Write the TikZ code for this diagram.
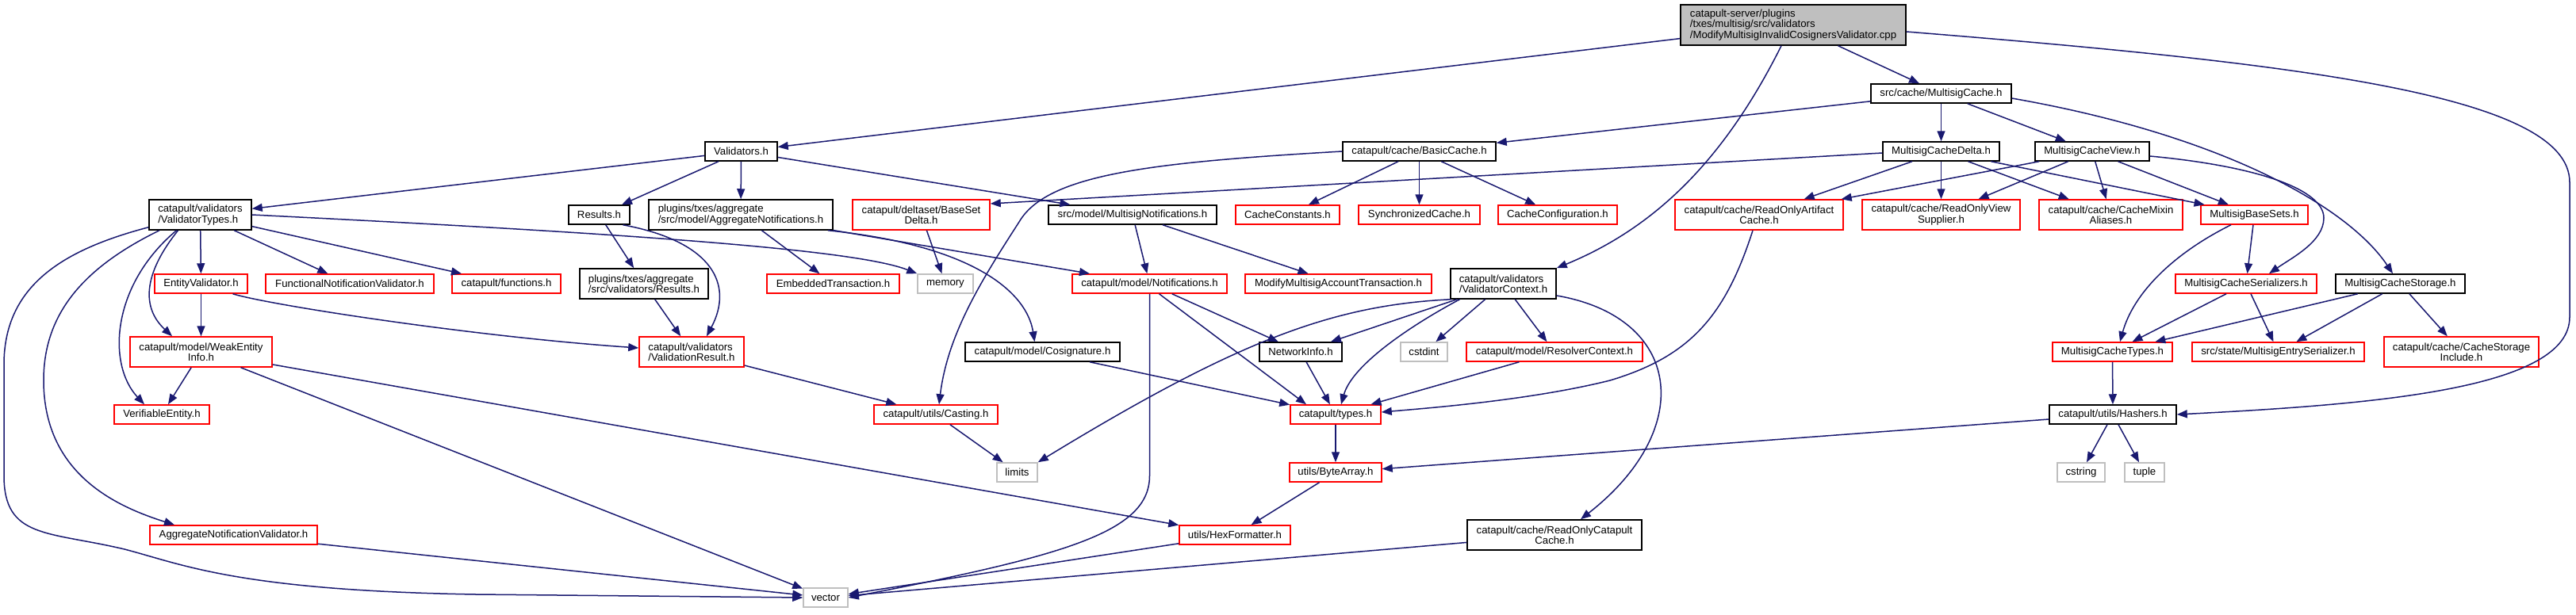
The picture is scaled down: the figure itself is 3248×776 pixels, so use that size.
\documentclass[tikz,border=0pt]{standalone}
\usepackage{fontspec}
\setmainfont{Liberation Sans}
\usetikzlibrary{arrows.meta}
\definecolor{edgeblue}{RGB}{25,25,112}
\definecolor{sysgray}{RGB}{191,191,191}

\begin{document}
\begin{tikzpicture}[x=1pt, y=-1pt,
    hdr/.style={draw=black, line width=1.5pt, fill=white, inner xsep=2pt, inner ysep=0pt,
        minimum height=24pt, font=\fontsize{13.2}{13.3}\selectfont, align=center},
    redhdr/.style={hdr, draw=red},
    syshdr/.style={hdr, draw=sysgray},
    twoline/.style={minimum height=38pt},
    incl/.style={draw=edgeblue, line width=1.5pt, -{Triangle[length=13pt,width=10pt]}}]
    \useasboundingbox (0,0) rectangle (3248,776);

    % Root file
    \node[hdr, fill=sysgray, minimum width=284pt, minimum height=51pt, align=left] (root) at (2261,31.5)
        {catapult-server/plugins\\/txes/multisig/src/validators\\/ModifyMultisigInvalidCosignersValidator.cpp};

    % First and second level
    \node[hdr, minimum width=91pt] (validators) at (934.5,191) {Validators.h};
    \node[hdr, minimum width=177pt] (mcache) at (2447.5,118) {src/cache/MultisigCache.h};
    \node[hdr, minimum width=193pt] (basiccache) at (1789.5,191) {catapult/cache/BasicCache.h};
    \node[hdr, minimum width=147pt] (mcdelta) at (2447.5,191) {MultisigCacheDelta.h};
    \node[hdr, minimum width=144pt] (mcview) at (2638,191) {MultisigCacheView.h};

    % Row at 271
    \node[hdr, twoline, minimum width=129pt, align=left] (vtypes) at (252.5,271) {catapult/validators\\/ValidatorTypes.h};
    \node[hdr, minimum width=77pt] (results) at (755.5,271) {Results.h};
    \node[hdr, twoline, minimum width=232pt, align=left] (aggnot) at (934,271) {plugins/txes/aggregate\\/src/model/AggregateNotifications.h};
    \node[redhdr, twoline, minimum width=173pt] (basesetdelta) at (1161.5,271) {catapult/deltaset/BaseSet\\Delta.h};
    \node[hdr, minimum width=212pt] (msignot) at (1428,271) {src/model/MultisigNotifications.h};
    \node[redhdr, minimum width=131pt] (cacheconst) at (1623.5,271) {CacheConstants.h};
    \node[redhdr, minimum width=153pt] (synccache) at (1789.5,271) {SynchronizedCache.h};
    \node[redhdr, minimum width=150pt] (cacheconf) at (1964,271) {CacheConfiguration.h};
    \node[redhdr, twoline, minimum width=212pt] (roartifact) at (2218,271) {catapult/cache/ReadOnlyArtifact\\Cache.h};
    \node[redhdr, twoline, minimum width=199pt] (roview) at (2447.5,271) {catapult/cache/ReadOnlyView\\Supplier.h};
    \node[redhdr, twoline, minimum width=181pt] (mixin) at (2661.5,271) {catapult/cache/CacheMixin\\Aliases.h};
    \node[redhdr, minimum width=135pt] (basesets) at (2842.5,271) {MultisigBaseSets.h};

    % Row at 358
    \node[redhdr, minimum width=117pt] (entityval) at (253.5,358) {EntityValidator.h};
    \node[redhdr, minimum width=212pt] (funcnot) at (441,358) {FunctionalNotificationValidator.h};
    \node[redhdr, minimum width=137pt] (functions) at (638.5,358) {catapult/functions.h};
    \node[hdr, twoline, minimum width=162pt, align=left] (valresults) at (812,358) {plugins/txes/aggregate\\/src/validators/Results.h};
    \node[redhdr, minimum width=167pt] (embedded) at (1050.5,358) {EmbeddedTransaction.h};
    \node[syshdr, minimum width=70pt] (memory) at (1192,358) {memory};
    \node[redhdr, minimum width=195pt] (notif) at (1449.5,358) {catapult/model/Notifications.h};
    \node[redhdr, minimum width=235pt] (modacct) at (1687.5,358) {ModifyMultisigAccountTransaction.h};
    \node[hdr, twoline, minimum width=133pt, align=left] (vcontext) at (1895.5,358) {catapult/validators\\/ValidatorContext.h};
    \node[redhdr, minimum width=178pt] (mcserial) at (2832,358) {MultisigCacheSerializers.h};
    \node[hdr, minimum width=163pt] (mcstorage) at (3026.5,358) {MultisigCacheStorage.h};

    % Row at 444
    \node[redhdr, twoline, minimum width=179pt] (weakentity) at (253.5,444) {catapult/model/WeakEntity\\Info.h};
    \node[redhdr, twoline, minimum width=132pt, align=left] (valresult) at (872,444) {catapult/validators\\/ValidationResult.h};
    \node[hdr, minimum width=195pt] (cosig) at (1314.5,444) {catapult/model/Cosignature.h};
    \node[hdr, minimum width=104pt] (netinfo) at (1640,444) {NetworkInfo.h};
    \node[syshdr, minimum width=59pt] (cstdint) at (1795.5,444) {cstdint};
    \node[redhdr, minimum width=222pt] (resolver) at (1960,444) {catapult/model/ResolverContext.h};
    \node[redhdr, minimum width=151pt] (mctypes) at (2663.5,444) {MultisigCacheTypes.h};
    \node[redhdr, minimum width=217pt] (entryser) at (2872.5,444) {src/state/MultisigEntrySerializer.h};
    \node[redhdr, twoline, minimum width=195pt] (storageinc) at (3103.5,444) {catapult/cache/CacheStorage\\Include.h};

    % Row at 523
    \node[redhdr, minimum width=120pt] (verifiable) at (204,523) {VerifiableEntity.h};
    \node[redhdr, minimum width=156pt] (casting) at (1180,523) {catapult/utils/Casting.h};
    \node[redhdr, minimum width=114pt] (types) at (1684,523) {catapult/types.h};
    \node[hdr, minimum width=160pt] (hashers) at (2664,523) {catapult/utils/Hashers.h};

    % Row at 596
    \node[syshdr, minimum width=51pt] (limits) at (1282.5,596) {limits};
    \node[redhdr, minimum width=116pt] (bytearray) at (1684,596) {utils/ByteArray.h};
    \node[syshdr, minimum width=60pt] (cstring) at (2624,596) {cstring};
    \node[syshdr, minimum width=50pt] (tuple) at (2704,596) {tuple};

    % Bottom rows
    \node[redhdr, minimum width=211pt] (aggval) at (294.5,675) {AggregateNotificationValidator.h};
    \node[redhdr, minimum width=140pt] (hexfmt) at (1557,675) {utils/HexFormatter.h};
    \node[hdr, twoline, minimum width=220pt] (rocatapult) at (1960,675) {catapult/cache/ReadOnlyCatapult\\Cache.h};
    \node[syshdr, minimum width=56pt] (vector) at (1041,754) {vector};

    % Includes of the root file
    \draw[incl] (root) -- (validators);
    \draw[incl] (root) -- (mcache);
    \draw[incl] ([xshift=-15pt]root.south) .. controls (2170,210) and (2080,290) .. (vcontext.north east);
    \draw[incl] ([yshift=-8.5pt]root.east) .. controls (2900,80) and (3240,120) .. (3240,230) -- (3240,400)
        .. controls (3240,490) and (3000,510) .. (hashers.east);

    % Validators.h
    \draw[incl] (validators) -- (vtypes);
    \draw[incl] (validators) -- (results);
    \draw[incl] (validators) -- (aggnot);
    \draw[incl] (validators) -- (msignot);

    % ValidatorTypes.h
    \draw[incl] (vtypes) -- (entityval);
    \draw[incl] (vtypes) -- (funcnot);
    \draw[incl] (vtypes) -- (functions);
    \draw[incl] (vtypes.east) .. controls (800,295) and (1080,315) .. (memory.north west);
    \draw[incl] ([xshift=-28pt]vtypes.south) .. controls (185,340) and (175,385) .. ([xshift=-36.5pt]weakentity.north);
    \draw[incl] ([xshift=-30pt]vtypes.south) .. controls (140,360) and (135,460) .. ([xshift=-22pt]verifiable.north);
    \draw[incl] ([xshift=-51.5pt]vtypes.south) .. controls (100,340) and (55,400) .. (55,480)
        .. controls (55,600) and (150,640) .. ([xshift=-74.5pt]aggval.north);
    \draw[incl] ([yshift=4pt]vtypes.south west) .. controls (80,315) and (5,360) .. (5,460) -- (5,600)
        .. controls (5,680) and (60,670) .. (157,693) .. controls (230,712) and (300,745) .. (600,750) -- (vector.west);

    % EntityValidator.h and WeakEntityInfo.h
    \draw[incl] (entityval) -- (weakentity);
    \draw[incl] ([xshift=40pt]entityval.south) .. controls (340,385) and (600,425) .. ([yshift=5pt]valresult.west);
    \draw[incl] (weakentity) -- (verifiable);
    \draw[incl] (weakentity) -- (vector);
    \draw[incl] (weakentity) -- (hexfmt);
    \draw[incl] (aggval) -- (vector);

    % Results.h
    \draw[incl] (results) -- (valresults);
    \draw[incl] ([xshift=30pt]results.south) .. controls (900,305) and (925,360) .. ([xshift=19pt]valresult.north);
    \draw[incl] (valresults) -- (valresult);

    % AggregateNotifications.h and MultisigNotifications.h
    \draw[incl] (aggnot) -- (embedded);
    \draw[incl] (aggnot) -- (notif);
    \draw[incl] ([xshift=110pt]aggnot.south) .. controls (1230,310) and (1295,370) .. ([xshift=-10pt]cosig.north);
    \draw[incl] (basesetdelta) -- (memory);
    \draw[incl] (msignot) -- (notif);
    \draw[incl] (msignot) -- (modacct);

    % Notifications.h
    \draw[incl] (notif.south) -- (1449.5,600) .. controls (1449.5,670) and (1350,700) .. (vector.east);
    \draw[incl] (notif) -- (netinfo);
    \draw[incl] ([xshift=12pt]notif.south) -- ([xshift=-37pt]types.north);
    \draw[incl] (cosig) -- (types);
    \draw[incl] (netinfo) -- (types);

    % ValidatorContext.h
    \draw[incl] (vcontext) -- (netinfo);
    \draw[incl] ([xshift=-55pt]vcontext.south) .. controls (1780,410) and (1705,460) .. ([xshift=7pt]types.north);
    \draw[incl] (vcontext) -- (cstdint);
    \draw[incl] (vcontext) -- (resolver);
    \draw[incl] ([yshift=-15pt]vcontext.east) .. controls (2120,400) and (2140,540) .. ([xshift=33pt]rocatapult.north);
    \draw[incl] ([xshift=-66pt]vcontext.south) .. controls (1680,385) and (1560,430) .. (limits.north east);
    \draw[incl] ([xshift=-8pt]roartifact.south) .. controls (2175,400) and (2130,450) .. (2030,480)
        .. controls (1930,505) and (1800,515) .. ([yshift=3pt]types.east);
    \draw[incl] (resolver) -- (types);

    % lower part
    \draw[incl] (types) -- (bytearray);
    \draw[incl] (bytearray) -- (hexfmt);
    \draw[incl] (hexfmt) -- (vector);
    \draw[incl] (rocatapult) -- (vector);
    \draw[incl] (casting) -- (limits);
    \draw[incl] (valresult) -- (casting);

    % BasicCache.h
    \draw[incl] (basiccache.west) .. controls (1450,205) and (1320,220) .. (1285,280)
        .. controls (1240,350) and (1195,420) .. ([xshift=4pt]casting.north);
    \draw[incl] (basiccache) -- (cacheconst);
    \draw[incl] (basiccache) -- (synccache);
    \draw[incl] (basiccache) -- (cacheconf);

    % MultisigCache.h
    \draw[incl] (mcache) -- (basiccache);
    \draw[incl] (mcache) -- (mcdelta);
    \draw[incl] (mcache) -- (mcview);
    \draw[incl] ([yshift=-6pt]mcache.east) .. controls (2800,170) and (2960,260) .. ([xshift=-9.5pt]mcstorage.north);

    % MultisigCacheDelta.h and MultisigCacheView.h
    \draw[incl] ([yshift=-2pt]mcdelta.west) -- ([yshift=14pt]basesetdelta.east);
    \draw[incl] (mcdelta) -- (roartifact);
    \draw[incl] (mcdelta) -- (roview);
    \draw[incl] (mcdelta) -- (mixin);
    \draw[incl] (mcdelta) -- (basesets);
    \draw[incl] (mcview) -- (roartifact);
    \draw[incl] (mcview) -- (roview);
    \draw[incl] (mcview) -- (mixin);
    \draw[incl] (mcview) -- (basesets);
    \draw[incl] ([yshift=-6pt]mcview.east) .. controls (2850,210) and (2930,240) .. (2930,275)
        .. controls (2930,305) and (2890,325) .. ([xshift=29pt]mcserial.north);

    % sets, serializers, storage
    \draw[incl] (basesets) -- (mcserial);
    \draw[incl] ([xshift=-29.5pt]basesets.south) .. controls (2740,320) and (2690,370) .. ([xshift=9.5pt]mctypes.north);
    \draw[incl] (mcserial) -- (mctypes);
    \draw[incl] (mcserial) -- (entryser);
    \draw[incl] (mcstorage) -- (mctypes);
    \draw[incl] (mcstorage) -- (entryser);
    \draw[incl] (mcstorage) -- (storageinc);
    \draw[incl] (mctypes) -- (hashers);
    \draw[incl] (hashers) -- (cstring);
    \draw[incl] (hashers) -- (tuple);
    \draw[incl] (hashers) -- (bytearray);
\end{tikzpicture}
\end{document}
